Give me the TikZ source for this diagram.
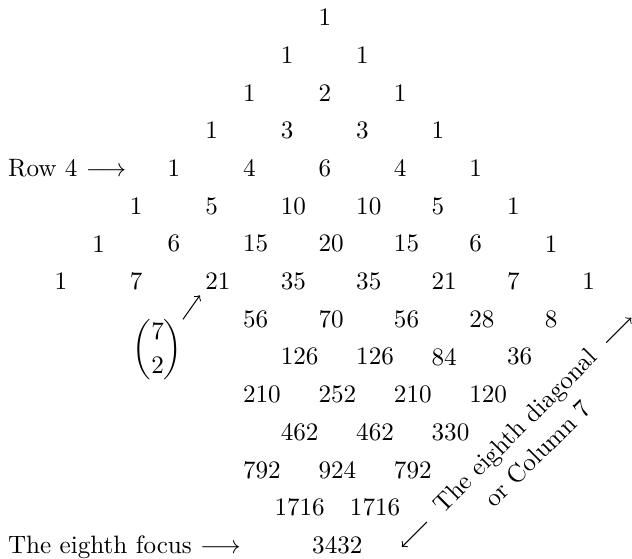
\documentclass[tikz,border=0pt]{standalone}
\usepackage{amsmath}
\usepackage{tikz}

\begin{document}
\begin{tikzpicture}[x=15pt, y=15pt,
    num/.style={anchor=west, inner sep=2pt, xshift=-4.5pt},
    wide/.style={xshift=-2.5pt},
    lbl/.style={anchor=base west, inner sep=0pt}]
    \useasboundingbox (-8.60,0.464) rectangle (8.16,-14.36);
    \foreach \r/\s/\vals in {0/0/{1}, 1/-1/{1,1}, 2/-2/{1,2,1}, 3/-3/{1,3,3,1},
        4/-4/{1,4,6,4,1}, 5/-5/{1,5,10,10,5,1}, 6/-6/{1,6,15,20,15,6,1},
        7/-7/{1,7,21,35,35,21,7,1}, 8/-2/{56,70,56,28,8}, 9/-1/{126,126,84,36},
        10/-2/{210,252,210,120}, 11/-1/{462,462,330}, 12/-2/{792,924,792},
        13/-1/{1716,1716}, 14/0/{3432}} {
        \foreach \v [count=\i from 0] in \vals {
            \ifnum\v>999
                \node[num, wide] (r\r c\i) at (\s+2*\i,-\r) {\v};
            \else
                \node[num] (r\r c\i) at (\s+2*\i,-\r) {\v};
            \fi
        }
    }
    % labels on the left
    \node[lbl] (rowlbl) at (-8.4,0 |- r4c0.base) {Row 4 $\longrightarrow$};
    \node[lbl] (focus) at (-8.4,0 |- r14c0.base) {The eighth focus $\longrightarrow$};
    % binomial pointing at 21
    \node[inner sep=0pt] (binom) at (-4.42,-8.82) {$\dbinom{7}{2}$};
    \draw[->] (binom.north east) -- (r7c2.south west);
    % the diagonal
    \coordinate (dlow) at (2.06,-14.04);
    \coordinate (dhigh) at (8.14,-7.96);
    \path (dlow) -- node[sloped, inner xsep=6.5pt] (diag) {The eighth diagonal} (dhigh);
    \node[rotate=45, anchor=north, inner sep=0pt] (col) at (diag.south) {or Column 7};
    \draw[->] (diag.west) -- (dlow);
    \draw[->] (diag.east) -- (dhigh);
\end{tikzpicture}
\end{document}
